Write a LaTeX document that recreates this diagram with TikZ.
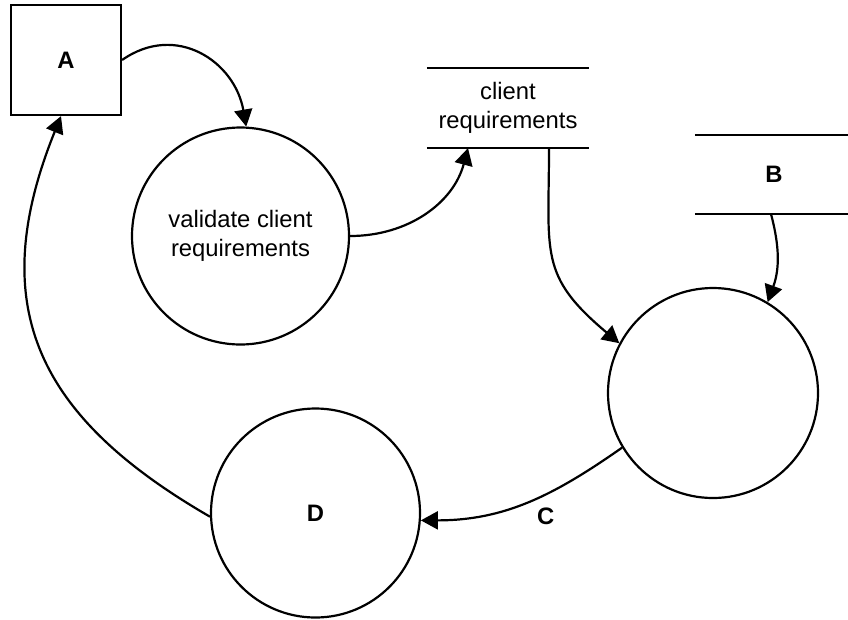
\documentclass[tikz,border=0pt]{standalone}
\usepackage{fontspec}
\setmainfont{Liberation Sans}
\usetikzlibrary{arrows.meta}

\begin{document}
\begin{tikzpicture}[x=1pt,y=1pt,line width=2.2pt,
  >={Triangle[length=17pt,width=18pt]},
  bubble/.style={draw,circle,inner sep=0pt,align=center,font=\fontsize{23.8}{29}\selectfont},
  store/.style={inner sep=0pt,align=center,font=\fontsize{23.8}{29}\selectfont},
  lbl/.style={font=\fontsize{23.8}{29}\selectfont\bfseries}]
\useasboundingbox (0,0) rectangle (848,-619);
% entities and stores
\node[draw,minimum size=110pt,inner sep=0pt,lbl] (A) at (66,-60) {A};
\node[store,minimum width=160pt,minimum height=78pt] (req) at (508,-108) {client\\requirements};
\node[store,minimum width=156pt,minimum height=77pt,lbl] (B) at (774,-174.5) {B};
\draw (req.north west) -- (req.north east) (req.south west) -- (req.south east);
\draw (B.north west) -- (B.north east) (B.south west) -- (B.south east);
% processes
\node[bubble,minimum size=217pt] (val) at (240.5,-236) {validate client\\requirements};
\node[bubble,minimum size=210pt] (proc) at (713,-393) {};
\node[bubble,minimum size=209pt,lbl] (D) at (315.5,-513) {D};
% flows
\draw[->] (A.east) to[out=35,in=100,looseness=1.2] (val.87);
\draw[->] (val.east) to[out=0,in=-105] ([xshift=-40pt]req.south);
\draw[->] ([xshift=41pt]req.south) to[out=-90,in=140,looseness=1.3] (proc.152);
\draw[->] ([xshift=-3pt]B.south) to[out=-75,in=70] (proc.59);
\draw[->] (proc.211) to[out=215,in=0] node[lbl,pos=0.4,below=9pt] {C} (D.-4);
\draw[->] (D.182) .. controls +(150:200) and +(-112:205) .. ([xshift=-5pt]A.south);
\end{tikzpicture}
\end{document}
